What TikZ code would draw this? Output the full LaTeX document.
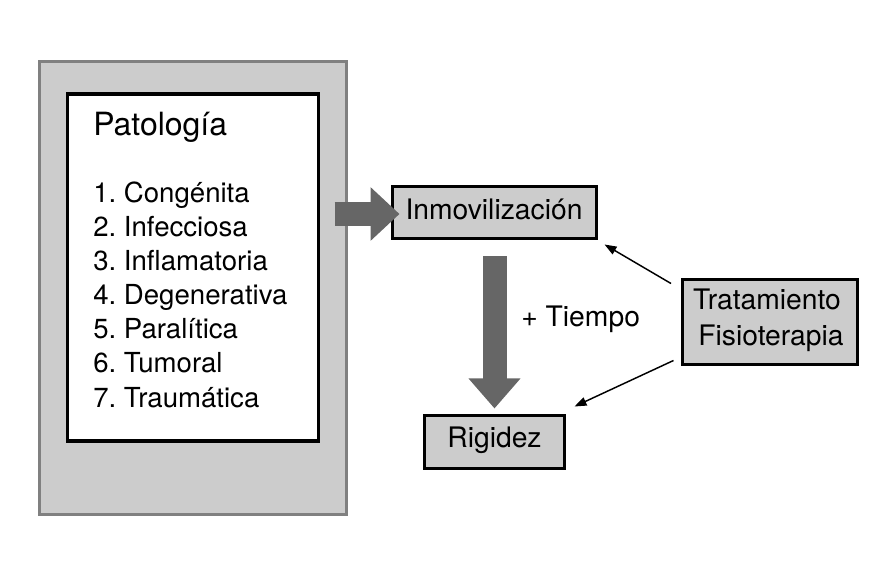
\documentclass[tikz,border=0pt]{standalone}
\usepackage{fontspec}
\setmainfont{TeX Gyre Heros}
\usetikzlibrary{arrows.meta,calc}
\definecolor{boxgray}{HTML}{CCCCCC}
\definecolor{bordgray}{HTML}{808080}
\definecolor{arrgray}{HTML}{666666}
\frenchspacing
\begin{document}
\begin{tikzpicture}[x=0.75pt,y=-0.75pt,
  outerbox/.style={draw=bordgray,fill=boxgray,line width=2.25pt,inner sep=0pt},
  innerbox/.style={draw=black,fill=white,line width=2.4pt,inner sep=0pt},
  graybox/.style={draw=black,fill=boxgray,line width=2.25pt,inner sep=0pt},
  txt/.style={inner sep=0pt,font=\fontsize{21.2pt}{25pt}\selectfont},
  listtxt/.style={inner sep=0pt,font=\fontsize{20.7pt}{25pt}\selectfont},
  titletxt/.style={inner sep=0pt,font=\fontsize{24pt}{28pt}\selectfont},
  bigarrow/.style={draw=arrgray,line width=18pt},
  thinarrow/.style={draw=black,line width=1.1pt,-{Triangle[length=9pt,width=6.5pt]}}
]
\useasboundingbox (0,0) rectangle (894,563);
% boxes
\node[outerbox,minimum width=230.25pt,minimum height=339.75pt] (outer) at (193,288) {};
\node[innerbox,minimum width=188.25pt,minimum height=260.25pt] (inner) at (193,267.5) {};
\node[graybox,minimum width=153pt,minimum height=39pt] (inm) at (494.5,212.5) {};
\node[graybox,minimum width=105pt,minimum height=39.75pt] (rig) at (494.5,442) {};
\node[graybox,minimum width=131.25pt,minimum height=63.75pt] (trat) at (770,322) {};
% texts
\node[titletxt,anchor=base west] (pat) at (93,136) {Patología};
\node[listtxt,anchor=base west] (l1) at (93,203) {1. Congénita};
\node[listtxt,anchor=base west] (l2) at (93,237) {2. Infecciosa};
\node[listtxt,anchor=base west] (l3) at (93,271) {3. Inflamatoria};
\node[listtxt,anchor=base west] (l4) at (93,305) {4. Degenerativa};
\node[listtxt,anchor=base west] (l5) at (93,339) {5. Paralítica};
\node[listtxt,anchor=base west] (l6) at (93,373) {6. Tumoral};
\node[listtxt,anchor=base west] (l7) at (93,407) {7. Traumática};
\node[txt,anchor=base] (inmtxt) at (494,220) {Inmovilización};
\node[txt,anchor=base] (rigtxt) at (494.5,448) {Rigidez};
\node[txt,anchor=base] (trat1) at (767,310) {Tratamiento};
\node[txt,anchor=base] (trat2) at (771,346) {Fisioterapia};
\node[txt,anchor=base west] (tiempo) at (521,327) {+ Tiempo};
% big arrows
\draw[bigarrow,-{Triangle[length=21.75pt,width=39pt]}] ($(inm.west)+(-56.5,1.5)$) -- ($(inm.west)+(8.5,1.5)$);
\draw[bigarrow,-{Triangle[length=22.5pt,width=37.5pt]}] ($(inm.south)+(0,16.5)$) -- ($(rig.north)+(0,-5.5)$);
% thin arrows
\draw[thinarrow] ($(trat.north west)+(-10,5.5)$) -- ($(inm.south east)+(6.5,4.5)$);
\draw[thinarrow] ($(trat.south west)+(-7.5,-5.5)$) -- ($(rig.north east)+(8.5,-7.5)$);
\end{tikzpicture}
\end{document}
